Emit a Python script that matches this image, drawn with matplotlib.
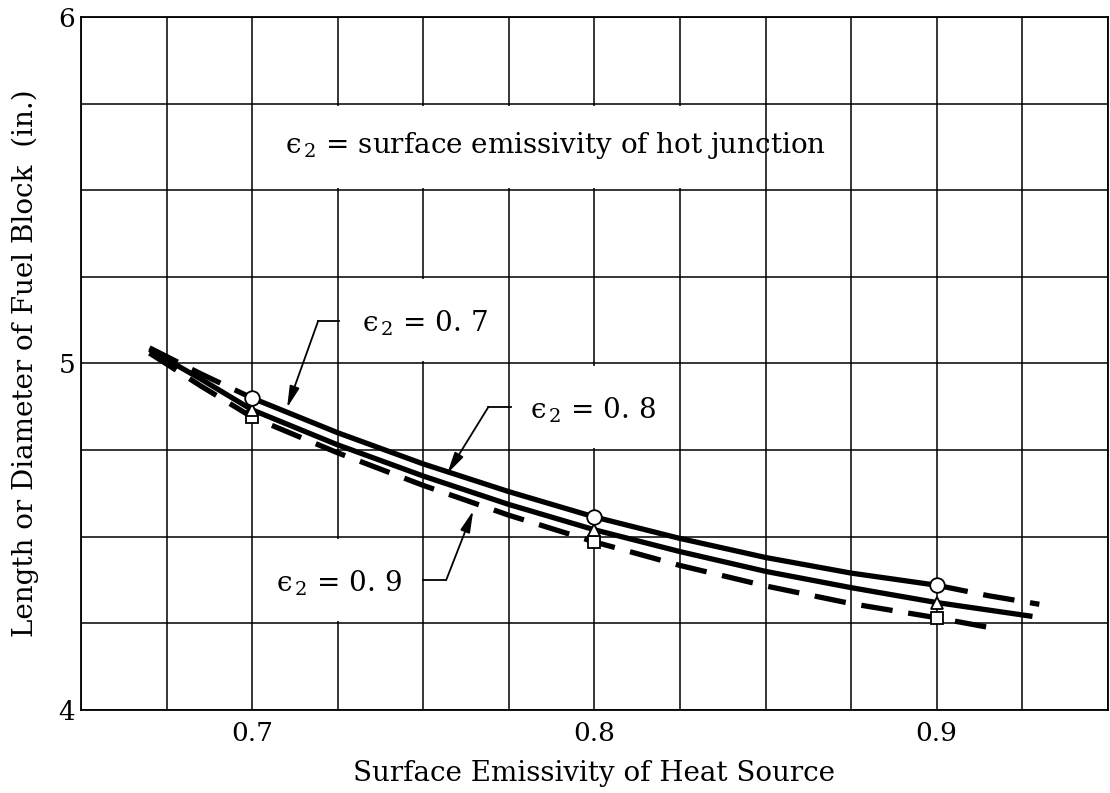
import numpy as np
import matplotlib
matplotlib.use('Agg')
import matplotlib.pyplot as plt
from matplotlib.patches import Rectangle
from matplotlib.ticker import MultipleLocator, FormatStrFormatter

plt.rcParams['font.family'] = ['DejaVu Serif']
plt.rcParams['mathtext.fontset'] = 'dejavuserif'

# calculated points (heat-source emissivity -> block size, in.)
emis_pts = [0.7, 0.8, 0.9]
size_e07 = [4.90, 4.557, 4.36]     # eps2 = 0.7, circles
size_e08 = [4.866, 4.52, 4.31]     # eps2 = 0.8, triangles
size_e09 = [4.845, 4.485, 4.266]   # eps2 = 0.9, squares

# faired curves read along the grid
x_e07 = [0.7, 0.725, 0.75, 0.775, 0.8, 0.825, 0.85, 0.875, 0.9]
y_e07 = [4.90, 4.80, 4.71, 4.63, 4.557, 4.495, 4.44, 4.395, 4.36]
x_e07_lo = [0.67, 0.685, 0.7]          # extrapolated, dashed
y_e07_lo = [5.045, 4.97, 4.90]
x_e07_hi = [0.9, 0.915, 0.93]
y_e07_hi = [4.36, 4.33, 4.305]

x_e08 = [0.67, 0.685, 0.7, 0.725, 0.75, 0.775, 0.8, 0.825, 0.85, 0.875, 0.9, 0.928]
y_e08 = [5.04, 4.955, 4.866, 4.765, 4.675, 4.593, 4.52, 4.457, 4.40, 4.353, 4.31, 4.27]

x_e09 = [0.67, 0.685, 0.7, 0.725, 0.75, 0.775, 0.8, 0.825, 0.85, 0.875, 0.9, 0.917]
y_e09 = [5.03, 4.935, 4.845, 4.742, 4.648, 4.562, 4.485, 4.417, 4.358, 4.307, 4.266, 4.235]

LW = 3.8
DASH = (6, 3)
FS = 20
EPS2 = r'$\mathregular{ϵ_{\,2}}$'

fig = plt.figure(figsize=(11.10, 7.93), dpi=100)
ax = fig.add_axes([0.073, 0.1047, 0.925, 0.874])
ax.set_xlim(0.65, 0.95)
ax.set_ylim(4, 6)

ax.xaxis.set_minor_locator(MultipleLocator(0.025))
ax.yaxis.set_major_locator(MultipleLocator(1))
ax.yaxis.set_minor_locator(MultipleLocator(0.25))
ax.xaxis.set_major_formatter(FormatStrFormatter('%.1f'))
ax.yaxis.set_major_formatter(FormatStrFormatter('%d'))
ax.set_xticks(emis_pts)
ax.tick_params(which='both', length=0, labelsize=FS - 1, pad=8)
ax.tick_params(axis='y', pad=4)
ax.grid(which='both', color='black', lw=1.1)
ax.set_axisbelow(True)
for sp in ax.spines.values():
    sp.set_linewidth(1.3)

# blank cells behind the labels
dx, dy = 0.0008, 0.007
for (x0, x1, y0, y1) in [(0.7, 0.85, 5.5, 5.75), (0.725, 0.775, 5.0, 5.25),
                         (0.775, 0.825, 4.75, 5.0), (0.7, 0.75, 4.25, 4.5)]:
    ax.add_patch(Rectangle((x0 + dx, y0 + dy), x1 - x0 - 2 * dx, y1 - y0 - 2 * dy,
                           facecolor='white', edgecolor='none', zorder=1))

# curves
ax.plot(x_e07, y_e07, color='black', lw=LW, solid_capstyle='butt', zorder=3)
ax.plot(x_e07_lo, y_e07_lo, color='black', lw=LW, dashes=DASH, zorder=3)
ax.plot(x_e07_hi, y_e07_hi, color='black', lw=LW, dashes=DASH, zorder=3)
ax.plot(x_e08, y_e08, color='black', lw=LW, solid_capstyle='butt', zorder=3)
ax.plot(x_e09, y_e09, color='black', lw=LW, dashes=DASH, zorder=3)

mk = dict(ls='none', mfc='white', mec='black', mew=1.3, zorder=4)
ax.plot(emis_pts, size_e09, marker='s', ms=8.5, **mk)
ax.plot(emis_pts, size_e08, marker='^', ms=8.5, **mk)
ax.plot(emis_pts, size_e07, marker='o', ms=10.5, **mk)

# labels
ax.text(0.7886, 5.63, EPS2 + ' = surface emissivity of hot junction',
        ha='center', va='center', fontsize=FS, zorder=5)
ax.text(0.7505, 5.115, EPS2 + ' = 0. 7', ha='center', va='center',
        fontsize=FS, zorder=5)
ax.text(0.7995, 4.865, EPS2 + ' = 0. 8', ha='center', va='center',
        fontsize=FS, zorder=5)
ax.text(0.7255, 4.365, EPS2 + ' = 0. 9', ha='center', va='center',
        fontsize=FS, zorder=5)

# leader lines with arrowheads
leaders = [((0.7254, 5.123), (0.7193, 5.123), (0.7102, 4.872)),
           ((0.7757, 4.874), (0.7690, 4.874), (0.7570, 4.682)),
           ((0.7500, 4.375), (0.7567, 4.375), (0.7646, 4.575))]
for start, elbow, tip in leaders:
    ax.plot([start[0], elbow[0]], [start[1], elbow[1]], color='black', lw=1.3,
            zorder=5)
    ax.annotate('', xy=tip, xytext=elbow, zorder=5,
                arrowprops=dict(arrowstyle='-|>,head_length=1.3,head_width=0.3',
                                color='black', lw=1.3, shrinkA=0, shrinkB=0))

ax.set_xlabel('Surface Emissivity of Heat Source', fontsize=FS, labelpad=10)
ax.set_ylabel('Length or Diameter of Fuel Block  (in.)', fontsize=FS, labelpad=14)

fig.savefig('out.png', dpi=100)
